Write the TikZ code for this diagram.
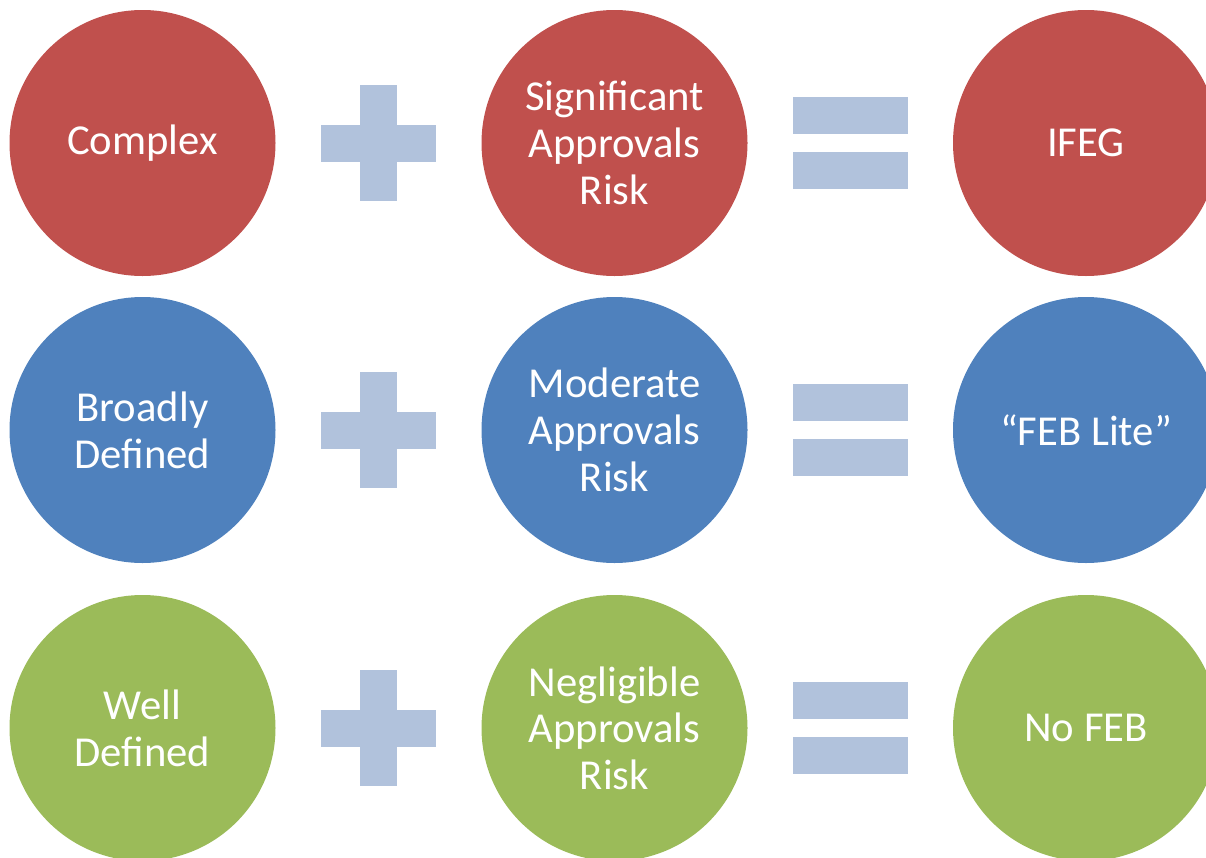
\documentclass[tikz,border=0pt]{standalone}
\usepackage{fontspec}
\setmainfont{Carlito}
\usetikzlibrary{positioning}

\definecolor{riskred}{RGB}{192,80,77}
\definecolor{riskblue}{RGB}{79,129,189}
\definecolor{riskgreen}{RGB}{155,187,89}
\definecolor{signcol}{RGB}{177,194,220}

\tikzset{
	bubble/.style={circle, minimum size=199.5pt, inner sep=0pt, text=white, align=center, font=\fontsize{32}{35}\selectfont},
	signbar/.style={fill=signcol, draw=none}
}

\begin{document}
\begin{tikzpicture}[x=0.75pt,y=0.75pt,yscale=-1,xscale=1]
	\useasboundingbox (0,0) rectangle (1206,857);
	
	% Row 1
	\node [bubble, fill=riskred] (complex) at (142.5,143) {Complex};
	\node [bubble, fill=riskred] (significant) at (614.5,143) {Significant\\Approvals\\Risk};
	\node [bubble, fill=riskred] (ifeg) at (1086,143) {IFEG};
	
	% Row 2
	\node [bubble, fill=riskblue] (broadly) at (142.5,430) {Broadly\\Defined};
	\node [bubble, fill=riskblue] (moderate) at (614.5,430) {Moderate\\Approvals\\Risk};
	\node [bubble, fill=riskblue] (feblite) at (1086,430) {“FEB Lite”};
	
	% Row 3
	\node [bubble, fill=riskgreen] (well) at (142.5,728) {Well\\Defined};
	\node [bubble, fill=riskgreen] (negligible) at (614.5,728) {Negligible\\Approvals\\Risk};
	\node [bubble, fill=riskgreen] (nofeb) at (1086,728) {No FEB};
	
	% Plus signs
	\fill [signbar] (321,124.5) rectangle (436,161.5);
	\fill [signbar] (360,85) rectangle (397,201);
	\fill [signbar] (321,411.5) rectangle (436,448.5);
	\fill [signbar] (360,372) rectangle (397,488);
	\fill [signbar] (321,709.5) rectangle (436,746.5);
	\fill [signbar] (360,670) rectangle (397,786);
	
	% Equals signs
	\fill [signbar] (793,97) rectangle (908,134);
	\fill [signbar] (793,152) rectangle (908,189);
	\fill [signbar] (793,384) rectangle (908,421);
	\fill [signbar] (793,439) rectangle (908,476);
	\fill [signbar] (793,682) rectangle (908,719);
	\fill [signbar] (793,737) rectangle (908,774);
	
\end{tikzpicture}
\end{document}
